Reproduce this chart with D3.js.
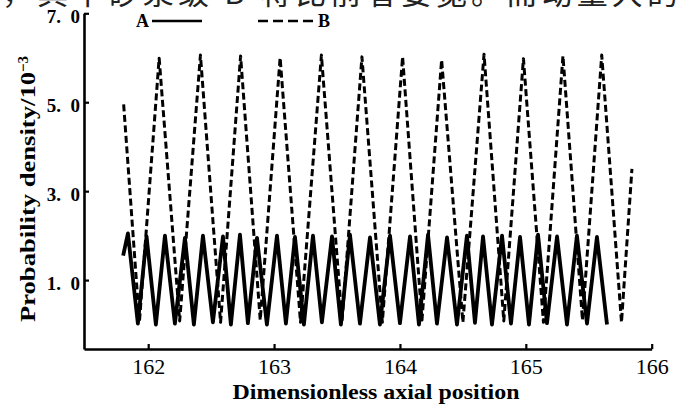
<!DOCTYPE html>
<html>
<head>
<meta charset="utf-8">
<script src="https://cdn.jsdelivr.net/npm/d3@7"></script>
<style>
  body { margin: 0; background: #fff; }
  svg { display: block; }
  text { font-family: "Liberation Serif", "DejaVu Serif", serif; fill: #000; }
</style>
</head>
<body>
<div id="Area"></div>
<script>
// values
var xTicks = [162, 163, 164, 165, 166];
var yTicks = [1.0, 3.0, 5.0, 7.0];
var seriesNames = ["A", "B"];

// series A : solid line
var posA = [161.801, 161.839, 161.918, 161.987, 162.061, 162.133, 162.212, 162.292, 162.363, 162.435,
            162.514, 162.594, 162.657, 162.729, 162.792, 162.864, 162.943, 163.023, 163.094, 163.166,
            163.237, 163.309, 163.380, 163.460, 163.531, 163.603, 163.682, 163.762, 163.841, 163.921,
            164.000, 164.080, 164.151, 164.223, 164.294, 164.374, 164.453, 164.532, 164.596, 164.660,
            164.731, 164.811, 164.882, 164.954, 165.025, 165.097, 165.168, 165.248, 165.327, 165.406,
            165.486, 165.565, 165.645];
var densA = [1.55, 2.05, 0.02, 1.98, 0.00, 2.00, 0.02, 1.95, 0.00, 2.00,
             0.05, 1.98, 0.00, 2.02, 0.03, 1.95, 0.00, 2.00, 0.02, 1.97,
             0.00, 2.00, 0.05, 1.98, 0.00, 2.02, 0.02, 1.96, 0.00, 2.00,
             0.03, 1.98, 0.00, 2.02, 0.02, 1.96, 0.00, 2.00, 0.04, 1.98,
             0.00, 2.00, 0.02, 1.97, 0.00, 2.02, 0.03, 1.98, 0.00, 2.00,
             0.02, 1.97, 0.00];

// series B : dashed line
var posB = [161.805, 161.930, 162.087, 162.250, 162.415, 162.575, 162.734, 162.890, 163.048, 163.210,
            163.376, 163.540, 163.698, 163.860, 164.021, 164.175, 164.331, 164.500, 164.668, 164.825,
            164.981, 165.140, 165.295, 165.450, 165.603, 165.760, 165.843];
var densB = [4.95, 0.05, 5.99, 0.08, 6.06, 0.05, 6.04, 0.10, 6.00, 0.05,
             6.06, 0.08, 6.02, 0.05, 6.02, 0.10, 5.95, 0.05, 6.08, 0.08,
             5.98, 0.05, 6.04, 0.10, 6.06, 0.05, 3.50];

var W = 682, H = 405;

var svg = d3.select("#Area")
  .append("svg")
    .attr("width", W)
    .attr("height", H);

// cut-off line of body text above the figure
svg.append("text")
  .attr("x", 2)
  .attr("y", 4)
  .attr("textLength", 676)
  .attr("lengthAdjust", "spacing")
  .style("font-family", "'Noto Sans CJK SC', sans-serif")
  .style("font-size", "31px")
  .style("fill", "#222")
  .text("，其中砂浆级 B 将比前者要宽。而动量大的");

var x = d3.scaleLinear()
    .domain([161.49, 166])
    .range([84, 651.7]);

var y = d3.scaleLinear()
    .domain([-0.55, 7.0])
    .range([349, 13.3]);

// x axis, ticks pointing inward
var gx = svg.append("g")
  .attr("transform", "translate(0," + y(-0.55) + ")")
  .call(d3.axisBottom(x)
    .tickValues(xTicks)
    .tickSizeInner(-5)
    .tickSizeOuter(0)
    .tickPadding(9)
    .tickFormat(d3.format("d")));
gx.select(".domain").attr("stroke", "#000").attr("stroke-width", 2.6);
gx.selectAll(".tick line").attr("stroke", "#000").attr("stroke-width", 2.2);
gx.selectAll(".tick text")
  .style("font-size", "22px")
  .style("font-family", "'Liberation Serif', serif");

// y axis
var gy = svg.append("g")
  .attr("transform", "translate(" + x(161.49) + ",0)")
  .call(d3.axisLeft(y)
    .tickValues(yTicks)
    .tickSizeInner(-5)
    .tickSizeOuter(0)
    .tickPadding(4)
    .tickFormat(function(d) { return d.toFixed(1).replace(".", ".\u2002"); }));
gy.select(".domain").attr("stroke", "#000").attr("stroke-width", 2.6);
gy.selectAll(".tick line").attr("stroke", "#000").attr("stroke-width", 2.2);
gy.selectAll(".tick text")
  .attr("dy", "0.5em")
  .style("font-size", "19px")
  .style("font-weight", "bold")
  .style("font-family", "'Liberation Serif', serif");

// axis titles
svg.append("text")
  .attr("x", 376)
  .attr("y", 399)
  .attr("text-anchor", "middle")
  .attr("textLength", 287)
  .attr("lengthAdjust", "spacingAndGlyphs")
  .style("font-size", "21px")
  .style("font-weight", "bold")
  .text("Dimensionless axial position");

var yt = svg.append("text")
  .attr("transform", "translate(35,322) rotate(-90)")
  .style("font-size", "21px")
  .style("font-weight", "bold");
yt.append("tspan")
  .attr("textLength", 250)
  .attr("lengthAdjust", "spacingAndGlyphs")
  .text("Probability density/10");
yt.append("tspan")
  .attr("dy", "-0.45em")
  .style("font-size", "15px")
  .text("\u22123");

// curves
var line = d3.line()
  .x(function(d) { return x(d.p); })
  .y(function(d) { return y(d.v); });

var dataA = posA.map(function(p, i) { return {p: p, v: densA[i]}; });
var dataB = posB.map(function(p, i) { return {p: p, v: densB[i]}; });

svg.append("path")
  .datum(dataB)
  .attr("d", line)
  .attr("fill", "none")
  .attr("stroke", "#000")
  .attr("stroke-width", 3)
  .attr("stroke-dasharray", "7,3.5")
  .attr("stroke-linejoin", "round");

svg.append("path")
  .datum(dataA)
  .attr("d", line)
  .attr("fill", "none")
  .attr("stroke", "#000")
  .attr("stroke-width", 3.8)
  .attr("stroke-linejoin", "round");

// legend
var leg = svg.append("g").style("font-weight", "bold").style("font-size", "18px");
leg.append("text").attr("x", 136).attr("y", 27).text(seriesNames[0]);
leg.append("line")
  .attr("x1", 152).attr("x2", 202).attr("y1", 21).attr("y2", 21)
  .attr("stroke", "#000").attr("stroke-width", 2.6);
leg.append("line")
  .attr("x1", 258).attr("x2", 315).attr("y1", 21).attr("y2", 21)
  .attr("stroke", "#000").attr("stroke-width", 2.6)
  .attr("stroke-dasharray", "10,5");
leg.append("text").attr("x", 318).attr("y", 27).text(seriesNames[1]);
</script>
</body>
</html>
